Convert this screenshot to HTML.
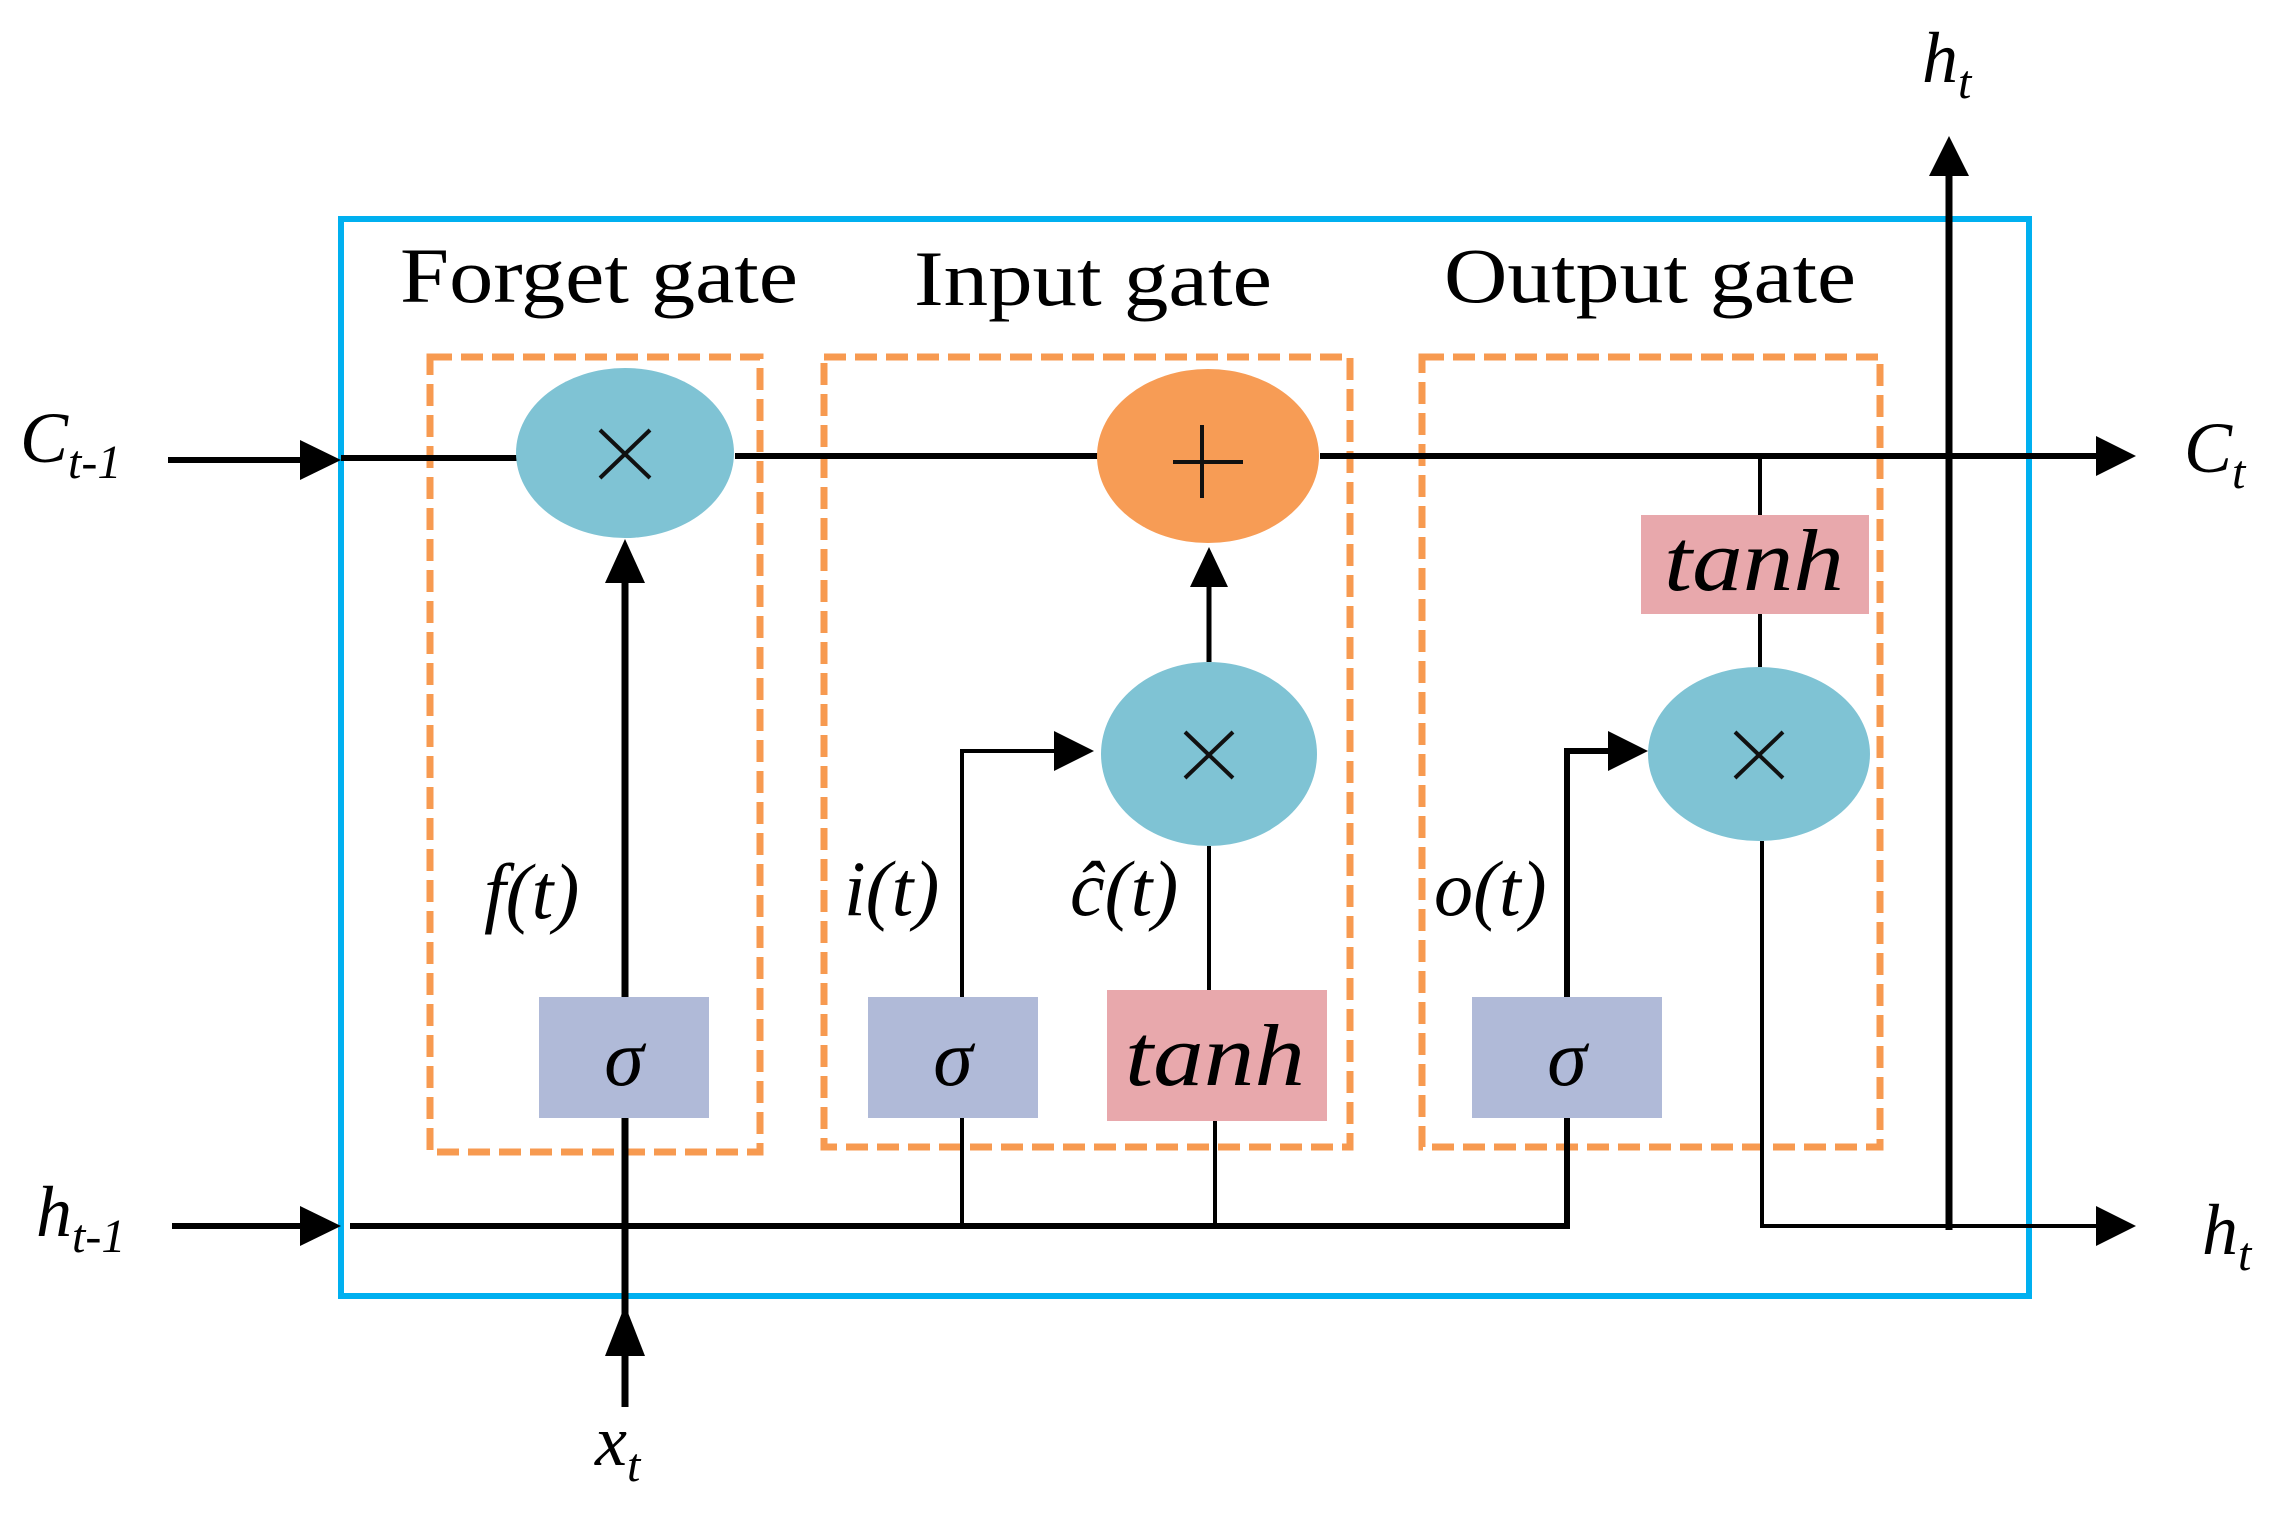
<!DOCTYPE html>
<html><head><meta charset="utf-8"><style>
html,body{margin:0;padding:0;background:#fff;}
svg{display:block;}
text{font-family:"Liberation Serif",serif;fill:#000;}
.it{font-style:italic;}
</style></head><body>
<svg width="2275" height="1513" viewBox="0 0 2275 1513" xmlns="http://www.w3.org/2000/svg">
<rect x="341" y="219" width="1688" height="1077" fill="none" stroke="#00b0f0" stroke-width="6"/>
<text x="400" y="302" font-size="78" textLength="398" lengthAdjust="spacingAndGlyphs">Forget gate</text>
<text x="914" y="305" font-size="78" textLength="358" lengthAdjust="spacingAndGlyphs">Input gate</text>
<text x="1444" y="302" font-size="78" textLength="412" lengthAdjust="spacingAndGlyphs">Output gate</text>
<g fill="none" stroke="#f79a50" stroke-width="7" stroke-dasharray="22 9">
<rect x="430" y="357" width="330" height="795"/>
<rect x="824" y="357" width="526" height="790"/>
<rect x="1422" y="357" width="458" height="790"/>
</g>
<g stroke="#000" fill="none" stroke-linecap="butt">
<line x1="168" y1="460" x2="310" y2="460" stroke-width="6"/>
<line x1="341" y1="458" x2="520" y2="458" stroke-width="6"/>
<line x1="735" y1="456" x2="1100" y2="456" stroke-width="6"/>
<line x1="1320" y1="456" x2="2100" y2="456" stroke-width="6"/>
<line x1="172" y1="1226" x2="310" y2="1226" stroke-width="6"/>
<polyline points="350,1226 1567,1226 1567,1118" stroke-width="6"/>
<line x1="625" y1="1407" x2="625" y2="580" stroke-width="7"/>
<polyline points="962,1226 962,751 1060,751" stroke-width="4"/>
<line x1="1215" y1="1226" x2="1215" y2="1121" stroke-width="4"/>
<line x1="1209" y1="990" x2="1209" y2="846" stroke-width="4"/>
<line x1="1209" y1="662" x2="1209" y2="580" stroke-width="5"/>
<polyline points="1567,997 1567,751 1615,751" stroke-width="6"/>
<polyline points="1762,841 1762,1226 2100,1226" stroke-width="4"/>
<line x1="1760" y1="456" x2="1760" y2="667" stroke-width="4"/>
<line x1="1949" y1="1230" x2="1949" y2="170" stroke-width="7"/>
</g>
<g fill="#000">
<polygon points="300,440 341,460 300,480"/>
<polygon points="300,1206 341,1226 300,1246"/>
<polygon points="2096,436 2136,456 2096,476"/>
<polygon points="2096,1206 2136,1226 2096,1246"/>
<polygon points="1929,176 1949,136 1969,176"/>
<polygon points="605,583 625,539 645,583"/>
<polygon points="605,1356 625,1305 645,1356"/>
<polygon points="1190,587 1209,547 1228,587"/>
<polygon points="1054,731 1094,751 1054,771"/>
<polygon points="1608,731 1648,751 1608,771"/>
</g>
<ellipse cx="625" cy="453" rx="109" ry="85" fill="#7fc3d4"/>
<ellipse cx="1208" cy="456" rx="111" ry="87" fill="#f79c55"/>
<ellipse cx="1209" cy="754" rx="108" ry="92" fill="#7fc3d4"/>
<ellipse cx="1759" cy="754" rx="111" ry="87" fill="#7fc3d4"/>
<g stroke="#111" stroke-width="4">
<line x1="600" y1="430" x2="650" y2="478"/><line x1="650" y1="430" x2="600" y2="478"/>
<line x1="1173" y1="462" x2="1243" y2="462"/><line x1="1202" y1="425" x2="1202" y2="498"/>
<line x1="1185" y1="732" x2="1233" y2="778"/><line x1="1233" y1="732" x2="1185" y2="778"/>
<line x1="1735" y1="732" x2="1783" y2="778"/><line x1="1783" y1="732" x2="1735" y2="778"/>
</g>
<rect x="539" y="997" width="170" height="121" fill="#b0bad8"/>
<rect x="868" y="997" width="170" height="121" fill="#b0bad8"/>
<rect x="1472" y="997" width="190" height="121" fill="#b0bad8"/>
<rect x="1107" y="990" width="220" height="131" fill="#e8a8ac"/>
<rect x="1641" y="515" width="228" height="99" fill="#e8a8ac"/>
<text x="624" y="1085" text-anchor="middle" font-size="80" class="it">σ</text>
<text x="953" y="1085" text-anchor="middle" font-size="80" class="it">σ</text>
<text x="1567" y="1085" text-anchor="middle" font-size="80" class="it">σ</text>
<text x="1125" y="1085" font-size="88" class="it" textLength="180" lengthAdjust="spacingAndGlyphs">tanh</text>
<text x="1664" y="590" font-size="88" class="it" textLength="180" lengthAdjust="spacingAndGlyphs">tanh</text>
<g font-size="78">
<text x="484" y="918" class="it">f(t)</text>
<text x="844" y="915" class="it">i(t)</text>
<text x="1070" y="915" class="it">ĉ(t)</text>
<text x="1434" y="915" class="it">o(t)</text>
</g>
<text x="20" y="462" font-size="72" class="it">C<tspan font-size="48" dy="16">t-1</tspan></text>
<text x="2184" y="472" font-size="72" class="it">C<tspan font-size="48" dy="16">t</tspan></text>
<text x="36" y="1236" font-size="72" class="it">h<tspan font-size="48" dy="16">t-1</tspan></text>
<text x="2202" y="1254" font-size="72" class="it">h<tspan font-size="48" dy="16">t</tspan></text>
<text x="1922" y="82" font-size="72" class="it">h<tspan font-size="48" dy="16">t</tspan></text>
<text x="595" y="1465" font-size="72" class="it">x<tspan font-size="48" dy="16">t</tspan></text>
</svg>
</body></html>
